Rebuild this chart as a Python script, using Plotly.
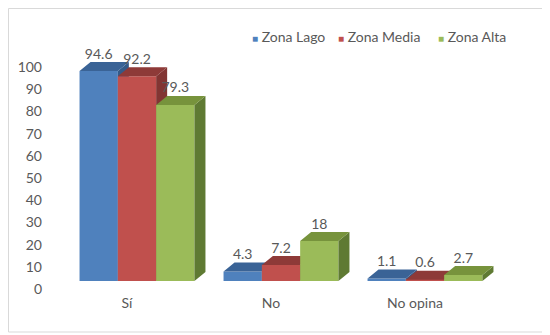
import plotly.graph_objects as go

categories = ["Sí", "No", "No opina"]
series_names = ["Zona Lago", "Zona Media", "Zona Alta"]
zona_lago = [94.6, 4.3, 1.1]
zona_media = [92.2, 7.2, 0.6]
zona_alta = [79.3, 18, 2.7]
y_ticks = [0, 10, 20, 30, 40, 50, 60, 70, 80, 90, 100]

values = [zona_lago, zona_media, zona_alta]
front_colors = ["#4F81BD", "#C0504D", "#9BBB59"]
top_colors = ["#3A6396", "#8E3A38", "#77933C"]
side_colors = ["#345A88", "#823533", "#5F7A33"]

OFF = 8  # page body margin offset
W, H = 550, 335
plot_l, plot_r, plot_t, plot_b = 55 - OFF, 511 - OFF, 59 - OFF, 281 - OFF
ml, mr, mt, mb = plot_l, W - plot_r, plot_t, H - plot_b
pw, ph = W - ml - mr, H - mt - mb
px_per_cat = 144.0
x0 = -(137 - OFF - plot_l) / px_per_cat
x1 = x0 + pw / px_per_cat
yr = [0, 100]
px_per_unit = ph / (yr[1] - yr[0])

bw = 0.266
dx = 11 / px_per_cat
dy = 9 / px_per_unit
offsets = [-bw, 0, bw]
font_color = "#595959"
FONT = "Lato"
FS = 14

fig = go.Figure()
axis_ids = [("x", "y"), ("x2", "y2"), ("x3", "y3")]

for k, (name, vals) in enumerate(zip(series_names, values)):
    xa, ya = axis_ids[k]
    xs = [i + offsets[k] for i in range(len(categories))]
    # front faces
    fig.add_trace(go.Bar(x=xs, y=vals, width=bw, name=name,
                         marker=dict(color=front_colors[k], line=dict(width=0)),
                         showlegend=False, hoverinfo="skip", xaxis=xa, yaxis=ya))
    # side faces and top faces
    sx, sy, tx, ty = [], [], [], []
    for xc, v in zip(xs, vals):
        l, r = xc - bw / 2, xc + bw / 2
        sx += [r, r + dx, r + dx, r, r, None]
        sy += [0, dy, v + dy, v, 0, None]
        tx += [l, l + dx, r + dx, r, l, None]
        ty += [v, v + dy, v + dy, v, v, None]
    fig.add_trace(go.Scatter(x=sx, y=sy, mode="lines", fill="toself", fillcolor=side_colors[k],
                             line=dict(width=0, color=side_colors[k]), showlegend=False, hoverinfo="skip",
                             xaxis=xa, yaxis=ya))
    fig.add_trace(go.Scatter(x=tx, y=ty, mode="lines", fill="toself", fillcolor=top_colors[k],
                             line=dict(width=0, color=top_colors[k]), showlegend=False, hoverinfo="skip",
                             xaxis=xa, yaxis=ya))
    # value labels
    fig.add_trace(go.Scatter(x=xs, y=[v + dy for v in vals], mode="text",
                             text=[f"{v:g}" for v in vals], textposition="top center",
                             textfont=dict(family=FONT, size=FS, color=font_color),
                             cliponaxis=False, showlegend=False, hoverinfo="skip", xaxis=xa, yaxis=ya))

# legend (drawn as annotations for tight spacing)
legend_x_px = [250, 336, 436]
annotations = []
for k, name in enumerate(series_names):
    annotations.append(dict(
        xref="paper", yref="paper",
        x=(legend_x_px[k] - OFF - ml) / pw, y=(H - mb - (37 - OFF)) / ph,
        xanchor="left", yanchor="middle", showarrow=False,
        text=f"<span style='color:{front_colors[k]};font-size:10px'>■</span> {name}",
        font=dict(family=FONT, size=FS, color=font_color)))

common_x = dict(range=[x0, x1], showgrid=False, zeroline=False, showline=False, fixedrange=True)
common_y = dict(range=yr, showgrid=False, zeroline=False, showline=False, fixedrange=True)

fig.update_layout(
    width=W, height=H,
    margin=dict(l=ml, r=mr, t=mt, b=mb, autoexpand=False),
    paper_bgcolor="white", plot_bgcolor="white",
    font=dict(family=FONT, size=FS, color=font_color),
    barmode="overlay",
    showlegend=False,
    xaxis=dict(**common_x, tickmode="array", tickvals=list(range(len(categories))), ticktext=categories,
               ticks="", ticklabelshift=-10, ticklabelstandoff=12,
               tickfont=dict(family=FONT, size=FS, color=font_color)),
    yaxis=dict(**common_y, tickmode="array", tickvals=y_ticks, ticks="", ticklabelshift=8,
               ticklabelstandoff=12, tickfont=dict(family=FONT, size=FS, color=font_color)),
    xaxis2=dict(**common_x, overlaying="x", visible=False),
    yaxis2=dict(**common_y, overlaying="y", visible=False),
    xaxis3=dict(**common_x, overlaying="x", visible=False),
    yaxis3=dict(**common_y, overlaying="y", visible=False),
    annotations=annotations,
    shapes=[dict(type="rect", xref="paper", yref="paper",
                 x0=(0.5 - ml) / pw, x1=(548 - OFF - ml) / pw,
                 y0=(H - mb - (332 - OFF)) / ph, y1=(H - mb - 0.5) / ph,
                 line=dict(color="#D9D9D9", width=1), fillcolor="rgba(0,0,0,0)", layer="below")],
)

fig.write_html("out.html")
